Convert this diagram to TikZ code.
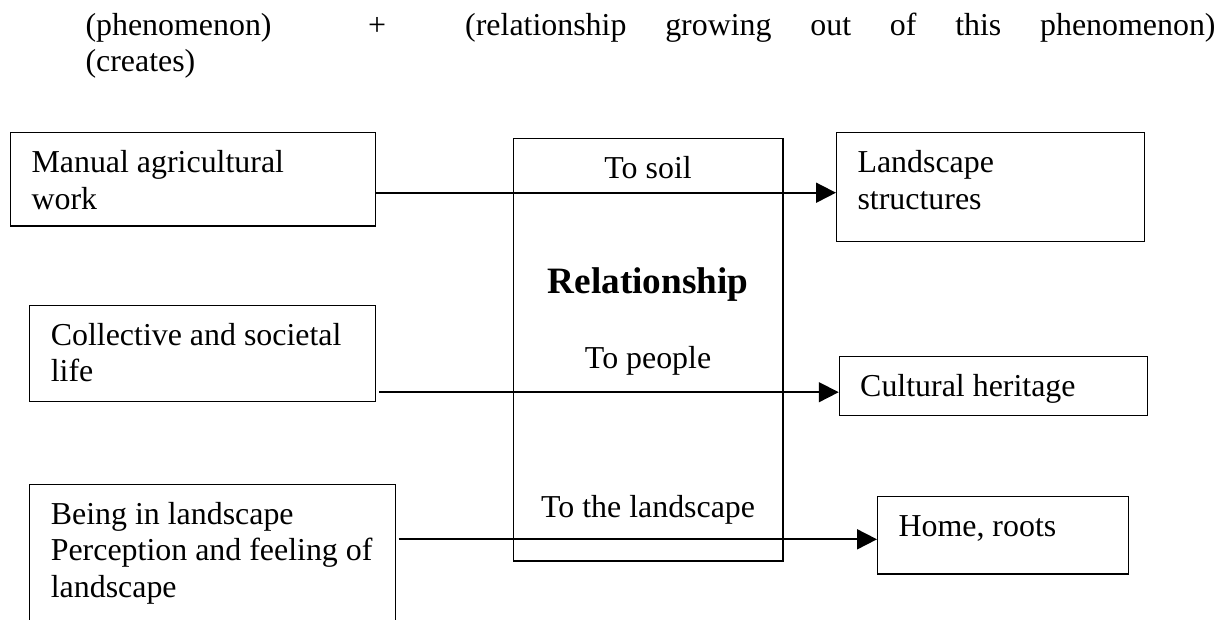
\documentclass[tikz,border=0pt]{standalone}
\usepackage{fontspec}
\setmainfont{Liberation Serif}
\usepackage{tikz}
\usetikzlibrary{arrows.meta,calc}
\tikzstyle{box}=[draw, line width=.45pt, inner sep=0pt, anchor=north west]
\tikzstyle{txt}=[inner sep=0pt, anchor=base west, align=flush left, text width=125pt, font=\fontsize{12}{13.8}\selectfont]
\tikzstyle{mid}=[inner sep=0pt, anchor=base, font=\fontsize{12}{13.8}\selectfont]
\tikzstyle{arr}=[line width=.7pt, -{Triangle[length=7.5pt,width=7.5pt]}]
\newcommand{\tbox}[5]{
	\node[box, minimum width=#3*0.3761pt, minimum height=#4*0.3761pt] (#1) at #2 {};
	\node[txt] (#1t) at ($ (#1.north west) + (21,40.5) $) {#5};
}

\begin{document}
\begin{tikzpicture}[x=0.3761pt, y=-0.3761pt]
%
\useasboundingbox (0,0) rectangle (1231,619);
\clip (0,0) rectangle (1231,619);
%
	\node[mid, anchor=base west] (phen) at (85,35) {(phenomenon)};
	\node[mid] (plus) at (377,35) {+};
	\node[mid, anchor=base west] (grow) at (464.7,35) {\hbox to 282.2pt{(relationship\hfill growing\hfill out\hfill of\hfill this\hfill phenomenon)}};
	\node[mid, anchor=base west] (creates) at (85,71.7) {(creates)};
%
	\tbox{manual}{(10,132)}{365.3}{93.3}{Manual agricultural\\work}
	\tbox{coll}{(29.3,304.7)}{346}{96}{Collective and societal\\life}
	\tbox{being}{(29.3,483.7)}{365.4}{160}{Being in landscape\\Perception and feeling of\\landscape}
	\tbox{struct}{(836,132)}{308}{109}{Landscape\\structures}
	\tbox{herit}{(838.7,356)}{308.3}{58.7}{Cultural heritage}
	\tbox{home}{(877,496)}{250.7}{77.3}{Home, roots}
%
	\node[box, minimum width=269.6*0.3761pt, minimum height=422.3*0.3761pt] (rel) at (512.7,138) {};
	\node[mid] (soil) at ($ (rel.north) + (0,40.3) $) {To soil};
	\node[mid, font=\fontsize{14}{16}\selectfont\bfseries] (relt) at ($ (rel.north) + (0,155.3) $) {Relationship};
	\node[mid] (people) at ($ (rel.north) + (0,230.3) $) {To people};
	\node[mid] (land) at ($ (rel.north) + (0,379) $) {To the landscape};
%
	\coordinate (r1) at (0,192.7);
	\coordinate (r2) at (0,392.2);
	\coordinate (r3) at (0,539.3);
	\draw[arr] (manual.east |- r1) -- (struct.west |- r1);
	\draw[arr, shorten <=1pt] (coll.east |- r2) -- (herit.west |- r2);
	\draw[arr, shorten <=1pt] (being.east |- r3) -- (home.west |- r3);
\end{tikzpicture}
\end{document}
